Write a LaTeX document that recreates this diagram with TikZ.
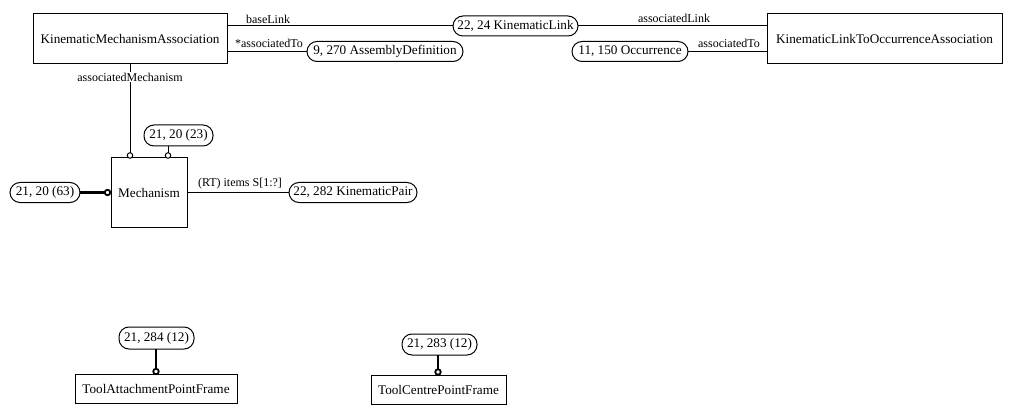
\documentclass[tikz,border=0pt]{standalone}
\usepackage{fontspec}
\setmainfont{Liberation Serif}
\begin{document}
\begin{tikzpicture}[x=1pt,y=-1pt,
  every node/.style={inner sep=0pt,outer sep=0pt},
  cls/.style={draw,line width=1pt,fill=white,align=center,font=\fontsize{13.2}{15}\selectfont},
  pill/.style={draw,line width=1pt,rounded corners=10pt,fill=white,align=center,font=\fontsize{13.2}{15}\selectfont},
  lbl/.style={font=\fontsize{12}{14}\selectfont},
  conn/.style={line width=1pt},
  thk/.style={line width=2.3pt},
  ring/.style={circle,draw,line width=1pt,fill=white,minimum size=5.5pt},
  thkring/.style={circle,draw,line width=1.8pt,fill=white,minimum size=5.5pt}]
\useasboundingbox[fill=white] (0,0) rectangle (1011,414);
% class boxes
\node[cls,minimum width=194pt,minimum height=50pt] (kma) at (130,39) {KinematicMechanismAssociation};
\node[cls,minimum width=235pt,minimum height=50pt] (klo) at (884.5,39) {KinematicLinkToOccurrenceAssociation};
\node[cls,minimum width=76pt,minimum height=69pt] (mech) at (149,192.5) {Mechanism};
\node[cls,minimum width=162pt,minimum height=29pt] (tapf) at (156,388.5) {ToolAttachmentPointFrame};
\node[cls,minimum width=135pt,minimum height=29pt] (tcpf) at (438.5,389.5) {ToolCentrePointFrame};
% pills
\node[pill,minimum width=125pt,minimum height=20pt] (kl) at (515.5,26) {22, 24 KinematicLink};
\node[pill,minimum width=156pt,minimum height=20pt] (ad) at (385,51.5) {9, 270 AssemblyDefinition};
\node[pill,minimum width=116pt,minimum height=20pt] (occ) at (630,51.5) {11, 150 Occurrence};
\node[pill,minimum width=69pt,minimum height=21pt] (p23) at (178.5,135.5) {21, 20 (23)};
\node[pill,minimum width=70pt,minimum height=20pt] (p63) at (45,192.5) {21, 20 (63)};
\node[pill,minimum width=128pt,minimum height=20pt] (kp) at (353,192.5) {22, 282 KinematicPair};
\node[pill,minimum width=75pt,minimum height=22pt] (p284) at (156.5,338) {21, 284 (12)};
\node[pill,minimum width=75pt,minimum height=21pt] (p283) at (439.5,344.5) {21, 283 (12)};
% rings
\node[ring] (c1) at (130,155.5) {};
\node[ring] (c2) at (168,155.5) {};
\node[thkring] (c3) at (107.5,192.5) {};
\node[thkring] (c4) at (156,371.5) {};
\node[thkring] (c5) at (438,372) {};
% connectors
\draw[conn] (kma.east |- kl.west) -- (kl.west);
\draw[conn] (kma.east |- ad.west) -- (ad.west);
\draw[conn] (kl.east) -- (klo.west |- kl.east);
\draw[conn] (occ.east) -- (klo.west |- occ.east);
\draw[conn] (kma.south) -- (c1.north);
\draw[conn] (c2.north |- p23.south) -- (c2.north);
\draw[thk] (p63.east) -- (c3.west);
\draw[conn] (mech.east |- kp.west) -- (kp.west);
\draw[thk] (c4.north |- p284.south) -- (c4.north);
\draw[thk] (c5.north |- p283.south) -- (c5.north);
% labels
\node[lbl] (l1) at (268,19) {baseLink};
\node[lbl] (l2) at (269,43) {*associatedTo};
\node[lbl] (l3) at (674,18) {associatedLink};
\node[lbl] (l4) at (729,43) {associatedTo};
\node[lbl,fill=white,inner sep=1pt] (l5) at (130,77) {associatedMechanism};
\node[lbl] (l6) at (240,184) {(RT) items S[1:?]};
\end{tikzpicture}
\end{document}
